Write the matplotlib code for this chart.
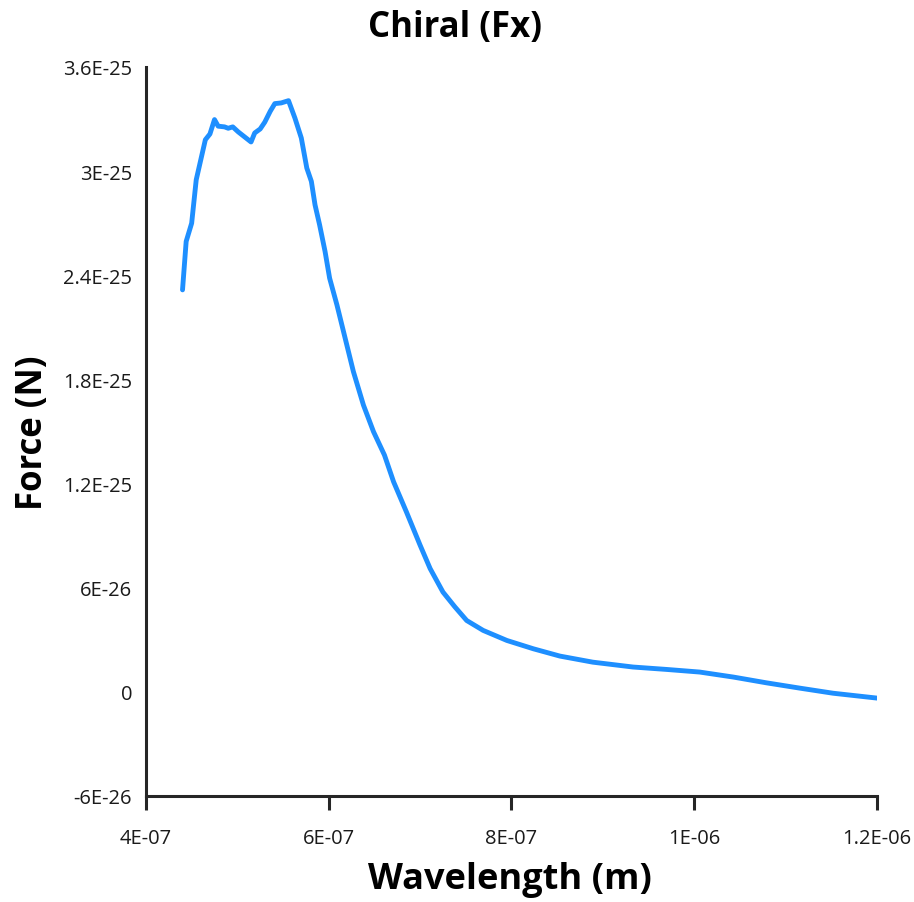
import matplotlib
matplotlib.use("Agg")
import matplotlib.pyplot as plt

plt.rcParams['font.family'] = ['Open Sans', 'DejaVu Sans']

title = "Chiral (Fx)"
xlabel = "Wavelength (m)"
ylabel = "Force (N)"

wavelength_nm = [440, 444, 450, 455, 465, 470, 475, 479, 486, 490, 495, 501,
                 515, 519, 525, 530, 536, 541, 548, 556, 563, 570, 576, 581,
                 585, 590, 596, 601, 609, 618, 627, 638, 649, 661, 671, 685,
                 700, 711, 725, 738, 751, 769, 795, 824, 853, 889, 933, 970,
                 1006, 1043, 1079, 1116, 1152, 1200]
force_e26 = [23.16, 25.95, 27.00, 29.50, 31.81, 32.14, 32.97, 32.59, 32.55,
             32.47, 32.55, 32.26, 31.68, 32.20, 32.43, 32.82, 33.45, 33.89,
             33.93, 34.06, 33.06, 31.91, 30.18, 29.41, 28.06, 26.91, 25.37,
             23.83, 22.29, 20.37, 18.45, 16.52, 14.99, 13.64, 12.10, 10.37,
             8.45, 7.10, 5.75, 4.90, 4.11, 3.54, 2.96, 2.48, 2.06, 1.71, 1.43,
             1.29, 1.14, 0.85, 0.52, 0.21, -0.08, -0.36]

x_ticks = [4e-7, 6e-7, 8e-7, 1e-6, 1.2e-6]
x_ticklabels = ["4E-07", "6E-07", "8E-07", "1E-06", "1.2E-06"]
y_ticks = [-6e-26, 0, 6e-26, 1.2e-25, 1.8e-25, 2.4e-25, 3e-25, 3.6e-25]
y_ticklabels = ["-6E-26", "0", "6E-26", "1.2E-25", "1.8E-25", "2.4E-25", "3E-25", "3.6E-25"]

x = [v * 1e-9 for v in wavelength_nm]
y = [v * 1e-26 for v in force_e26]

fig = plt.figure(figsize=(9.14, 9.03), dpi=100)
ax = fig.add_axes([0.1597, 0.1174, 0.7998, 0.8073])

ax.plot(x, y, color='#1E8FFF', linewidth=3.5, solid_capstyle='round', solid_joinstyle='round')

ax.set_xlim(4e-7, 1.2e-6)
ax.set_ylim(-6e-26, 3.6e-25)
ax.set_xticks(x_ticks)
ax.set_xticklabels(x_ticklabels)
ax.set_yticks(y_ticks)
ax.set_yticklabels(y_ticklabels)

for s in ['top', 'right']:
    ax.spines[s].set_visible(False)
for s in ['left', 'bottom']:
    ax.spines[s].set_color('#262626')
    ax.spines[s].set_linewidth(2.2)

ax.tick_params(axis='x', direction='out', length=10, width=2.2, color='#262626',
               labelsize=14.5, pad=13, labelcolor='#1a1a1a')
ax.tick_params(axis='y', length=0, labelsize=14.5, pad=10, labelcolor='#1a1a1a')

fig.text(455 / 914, 1 - 28 / 903, title, ha='center', va='center',
         fontsize=25, fontweight='bold')
fig.text(510 / 914, 1 - 880 / 903, xlabel, ha='center', va='center',
         fontsize=26, fontweight='bold')
fig.text(33 / 914, 1 - 433 / 903, ylabel, ha='center', va='center', rotation=90,
         fontsize=25, fontweight='bold')

fig.savefig("out.png", dpi=100)
